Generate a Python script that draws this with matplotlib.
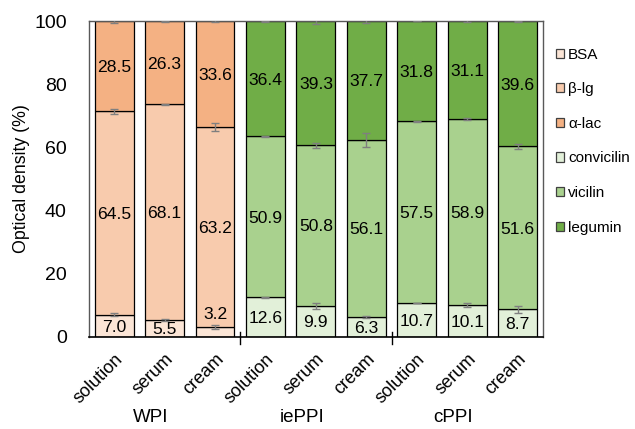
import numpy as np
import matplotlib.pyplot as plt
import matplotlib.transforms as mtransforms
from matplotlib.patches import Patch

plt.rcParams['font.family'] = ['Liberation Sans', 'DejaVu Sans']

samples = ['solution', 'serum', 'cream'] * 3
groups = ['WPI', 'iePPI', 'cPPI']

# three fractions per bar, bottom to top
bottom_vals = [7.0, 5.5, 3.2, 12.6, 9.9, 6.3, 10.7, 10.1, 8.7]
middle_vals = [64.5, 68.1, 63.2, 50.9, 50.8, 56.1, 57.5, 58.9, 51.6]
top_vals = [28.5, 26.3, 33.6, 36.4, 39.3, 37.7, 31.8, 31.1, 39.6]

bottom_err = [0.5, 0.3, 0.6, 0.2, 1.0, 0.2, 0.1, 0.6, 1.1]
middle_err = [0.8, 0.2, 1.2, 0.2, 0.8, 2.3, 0.1, 0.2, 0.9]
top_err = [0.6, 0.1, 0.3, 0.1, 0.8, 0.8, 0.1, 0.4, 0.2]

whey_names = ['BSA', 'β-lg', 'α-lac']
pea_names = ['convicilin', 'vicilin', 'legumin']
whey_colors = ['#FBE5D6', '#F8CBAD', '#F4B183']
pea_colors = ['#E2F0D9', '#A9D18E', '#70AD47']

x = np.arange(len(samples))
is_whey = x < 3
layer_colors = [[whey_colors[k] if w else pea_colors[k] for w in is_whey] for k in range(3)]

fig = plt.figure(figsize=(6.35, 4.29), dpi=100)
ax = fig.add_axes([0.140, 0.2145, 0.715, 0.7365])

layers = [np.array(bottom_vals), np.array(middle_vals), np.array(top_vals)]
errs = [bottom_err, middle_err, top_err]
base = np.zeros(len(x))
for k, vals in enumerate(layers):
    ax.bar(x, vals, bottom=base, width=0.77, color=layer_colors[k],
           edgecolor='black', linewidth=0.9, zorder=2)
    ax.errorbar(x, base + vals, yerr=errs[k], fmt='none', ecolor='#7F7F7F',
                elinewidth=1, capsize=3, capthick=1, zorder=3)
    for i in x:
        yc = base[i] + vals[i] / 2 - 0.4
        if vals[i] < 5:
            yc = base[i] + vals[i] + 3.8
        ax.text(i, yc, f'{vals[i]:.1f}', ha='center', va='center',
                fontsize=12.6, color='black', zorder=4)
    base = base + vals

ax.set_xlim(-0.5, 8.5)
ax.set_ylim(0, 100)
ax.set_yticks(np.arange(0, 101, 20))
ax.tick_params(axis='y', length=0, pad=16, labelsize=14)
ax.set_xticks(x)
ax.set_xticklabels(samples, rotation=45, ha='right', rotation_mode='anchor',
                   fontsize=13)
ax.tick_params(axis='x', length=0, pad=10)
ax.set_ylabel('Optical density (%)', fontsize=12.8, labelpad=3)

for side in ['left', 'right', 'top']:
    ax.spines[side].set_color('#595959')
    ax.spines[side].set_linewidth(1)
ax.spines['bottom'].set_color('black')
ax.spines['bottom'].set_linewidth(1.2)

# group separators and group names below the sample labels
trans = mtransforms.blended_transform_factory(ax.transData, ax.transAxes)
for sep in [2.5, 5.5]:
    ax.plot([sep, sep], [0.016, -0.022], color='black', lw=1,
            transform=trans, clip_on=False)
for g, name in enumerate(groups):
    ax.text(3 * g + 0.72, -0.255, name, transform=trans, ha='center',
            va='center', fontsize=13.5)

handles = [Patch(facecolor=c, edgecolor='#404040', linewidth=0.9)
           for c in whey_colors + pea_colors]
ax.legend(handles, whey_names + pea_names, loc='upper left',
          bbox_to_anchor=(1.005, 0.95), frameon=False, fontsize=11,
          handlelength=0.55, handleheight=0.55, handletextpad=0.25,
          labelspacing=1.35, borderaxespad=0.3)

fig.savefig('out.png', dpi=100)
